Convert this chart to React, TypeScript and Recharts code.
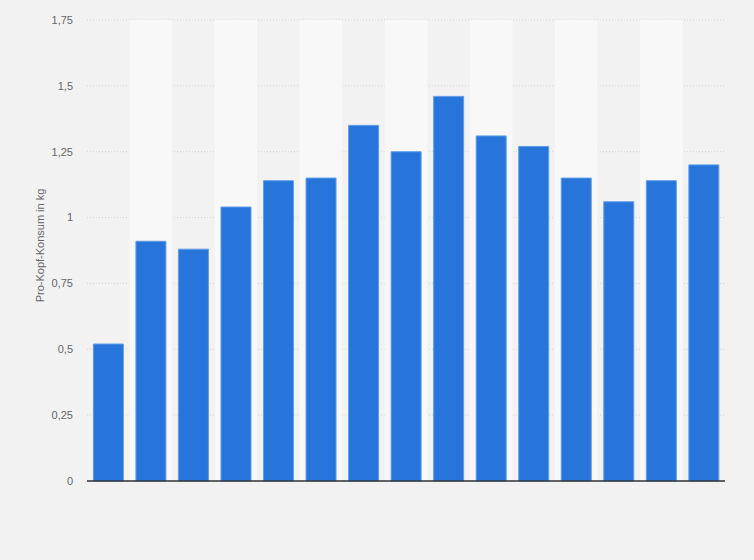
import React from "react";
import { BarChart, Bar, XAxis, YAxis, CartesianGrid, ReferenceArea } from "recharts";

const categories = ["1", "2", "3", "4", "5", "6", "7", "8", "9", "10", "11", "12", "13", "14", "15"];
const values = [0.52, 0.91, 0.88, 1.04, 1.14, 1.15, 1.35, 1.25, 1.46, 1.31, 1.27, 1.15, 1.06, 1.14, 1.2];
const yTicks = [0, 0.25, 0.5, 0.75, 1, 1.25, 1.5, 1.75];

const data = categories.map((c, i) => ({ name: c, value: values[i] }));
const stripeCats = categories.filter((_, i) => i % 2 === 1);

const fmt = (v: number) => String(v).replace(".", ",");
const FONT = "'Liberation Sans', Arial, Helvetica, sans-serif";

const YLabel = (props: any) => {
  const vb = props.viewBox || {};
  const cy = (vb.y || 0) + (vb.height || 0) / 2 - 5;
  return (
    <text
      x={40}
      y={cy}
      transform={`rotate(-90, 40, ${cy})`}
      textAnchor="middle"
      dominantBaseline="central"
      fill="#666"
      fontSize={11}
      fontFamily={FONT}
    >
      Pro-Kopf-Konsum in kg
    </text>
  );
};

export default function App() {
  return (
    <div style={{ position: "absolute", left: 0, top: 0, width: 754, height: 560, background: "#f2f2f2" }}>
      <BarChart
        width={754}
        height={560}
        data={data}
        margin={{ top: 20, right: 29, left: 0, bottom: 49 }}
        barCategoryGap="15%"
      >
        {stripeCats.map((c) => (
          <ReferenceArea key={c} x1={c} x2={c} fill="#f8f8f8" fillOpacity={1} stroke="none" ifOverflow="visible" />
        ))}
        <CartesianGrid vertical={false} stroke="#d4d4d4" strokeDasharray="1 2" />
        <XAxis dataKey="name" tick={false} tickLine={false} axisLine={{ stroke: "#333", strokeWidth: 1.5 }} height={30} />
        <YAxis
          width={87}
          domain={[0, 1.75]}
          ticks={yTicks}
          tickFormatter={fmt}
          tickLine={false}
          axisLine={false}
          tickMargin={8}
          tick={{ fill: "#666", fontSize: 11, fontFamily: FONT }}
          label={<YLabel />}
          interval={0}
        />
        <Bar dataKey="value" fill="#2775db" stroke="#5f9de8" strokeWidth={1} isAnimationActive={false} />
      </BarChart>
    </div>
  );
}
